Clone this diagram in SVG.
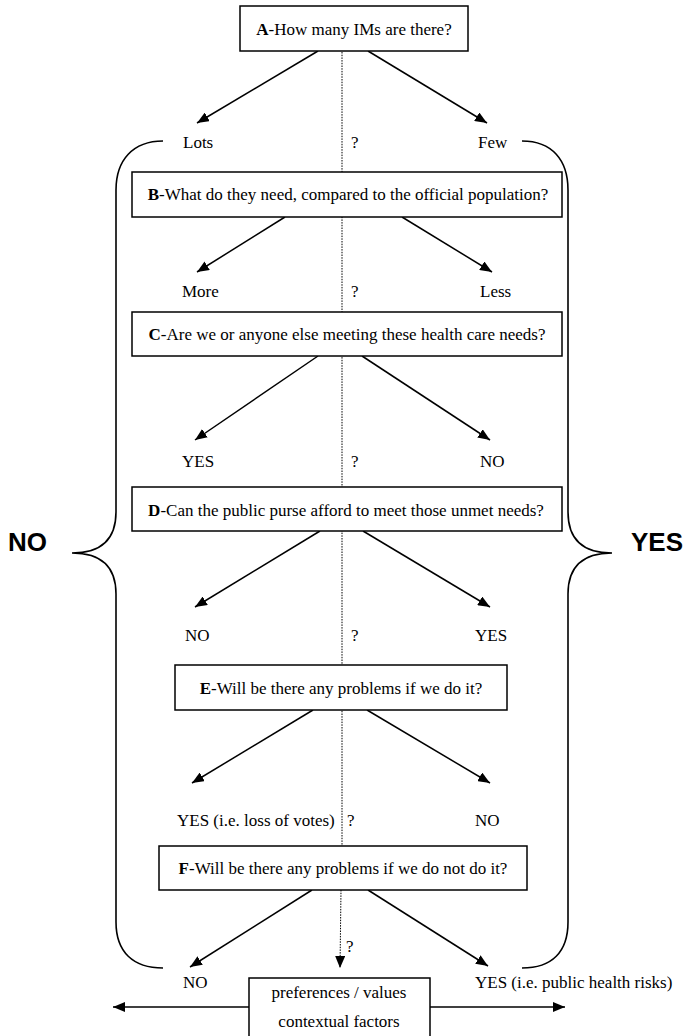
<svg xmlns="http://www.w3.org/2000/svg" width="686" height="1036" viewBox="0 0 686 1036">
<defs>
<style>
.box{fill:#fff;stroke:#000;stroke-width:1.5}
.t{font-family:"Liberation Serif","Times New Roman",serif;font-size:17px;fill:#000}
.c{text-anchor:middle}
.big{font-family:"Liberation Sans",Arial,sans-serif;font-size:26px;font-weight:bold;fill:#000}
.ln{stroke:#000;stroke-width:1.5;fill:none}
.dot{stroke:#000;stroke-width:1;stroke-dasharray:1.5 1.2;fill:none}
.br{stroke:#000;stroke-width:1.6;fill:none}
</style>
<marker id="ah" viewBox="0 0 12 10" refX="12" refY="5" markerWidth="12" markerHeight="10" markerUnits="userSpaceOnUse" orient="auto">
<path d="M0,0 L12,5 L0,10 z" fill="#000"/>
</marker>
</defs>
<rect width="686" height="1036" fill="#fff"/>
<g id="connectors">
<line class="dot" x1="342" y1="52" x2="342" y2="890"/>
<line class="dot" x1="341" y1="890" x2="340" y2="968" marker-end="url(#ah)"/>
<line class="ln" x1="318" y1="51" x2="197" y2="123" marker-end="url(#ah)"/>
<line class="ln" x1="368" y1="51" x2="487" y2="123" marker-end="url(#ah)"/>
<line class="ln" x1="285" y1="217" x2="197" y2="272" marker-end="url(#ah)"/>
<line class="ln" x1="402" y1="217" x2="492" y2="272" marker-end="url(#ah)"/>
<line class="ln" x1="318" y1="356" x2="195" y2="440" marker-end="url(#ah)"/>
<line class="ln" x1="362" y1="356" x2="490" y2="440" marker-end="url(#ah)"/>
<line class="ln" x1="320" y1="531" x2="195" y2="607" marker-end="url(#ah)"/>
<line class="ln" x1="363" y1="531" x2="490" y2="607" marker-end="url(#ah)"/>
<line class="ln" x1="313" y1="710" x2="192" y2="783" marker-end="url(#ah)"/>
<line class="ln" x1="367" y1="710" x2="490" y2="783" marker-end="url(#ah)"/>
<line class="ln" x1="312" y1="890" x2="190" y2="967" marker-end="url(#ah)"/>
<line class="ln" x1="368" y1="890" x2="488" y2="966" marker-end="url(#ah)"/>
<line class="ln" x1="249" y1="1007" x2="113" y2="1007" marker-end="url(#ah)"/>
<line class="ln" x1="430" y1="1007" x2="565" y2="1007" marker-end="url(#ah)"/>
</g>
<g id="braces">
<path class="br" d="M163,141 C133,141 116,160 116,190 L116,512 C116,540 100,553 72,553 C100,553 116,566 116,594 L116,922 C116,952 133,968 163,968"/>
<path class="br" d="M522,141 C552,141 568,160 568,190 L568,512 C568,540 584,553 612,553 C584,553 568,566 568,594 L568,922 C568,952 552,968 522,968"/>
<text class="big" x="8" y="551">NO</text>
<text class="big" x="631" y="551">YES</text>
</g>
<g id="nodeA">
<rect class="box" x="240" y="6" width="228" height="45"/>
<text class="t c" x="354" y="35"><tspan font-weight="bold">A</tspan>-How many IMs are there?</text>
</g>
<g id="labelsA">
<text class="t" x="183" y="148">Lots</text>
<text class="t" x="351" y="148">?</text>
<text class="t" x="478" y="148">Few</text>
</g>
<g id="nodeB">
<rect class="box" x="132" y="172" width="430" height="45"/>
<text class="t c" x="348" y="200"><tspan font-weight="bold">B</tspan>-What do they need, compared to the official population?</text>
</g>
<g id="labelsB">
<text class="t" x="182" y="297">More</text>
<text class="t" x="351" y="297">?</text>
<text class="t" x="480" y="297">Less</text>
</g>
<g id="nodeC">
<rect class="box" x="132" y="312" width="430" height="44"/>
<text class="t c" x="347" y="340"><tspan font-weight="bold">C</tspan>-Are we or anyone else meeting these health care needs?</text>
</g>
<g id="labelsC">
<text class="t" x="182" y="467">YES</text>
<text class="t" x="351" y="467">?</text>
<text class="t" x="480" y="467">NO</text>
</g>
<g id="nodeD">
<rect class="box" x="132" y="487" width="430" height="44"/>
<text class="t c" x="346" y="516"><tspan font-weight="bold">D</tspan>-Can the public purse afford to meet those unmet needs?</text>
</g>
<g id="labelsD">
<text class="t" x="185" y="641">NO</text>
<text class="t" x="351" y="641">?</text>
<text class="t" x="475" y="641">YES</text>
</g>
<g id="nodeE">
<rect class="box" x="175" y="665" width="332" height="45"/>
<text class="t c" x="341" y="694"><tspan font-weight="bold">E</tspan>-Will be there any problems if we do it?</text>
</g>
<g id="labelsE">
<text class="t" x="177" y="826">YES (i.e. loss of votes)</text>
<text class="t" x="347" y="826">?</text>
<text class="t" x="475" y="826">NO</text>
</g>
<g id="nodeF">
<rect class="box" x="159" y="846" width="368" height="44"/>
<text class="t c" x="343" y="874"><tspan font-weight="bold">F</tspan>-Will be there any problems if we do not do it?</text>
</g>
<g id="labelsF">
<text class="t" x="346" y="952">?</text>
<text class="t" x="183" y="988">NO</text>
<text class="t" x="475" y="988">YES (i.e. public health risks)</text>
</g>
<g id="nodeG">
<rect class="box" x="249" y="978" width="181" height="70"/>
<text class="t c" x="339" y="998">preferences / values</text>
<text class="t c" x="339" y="1027">contextual factors</text>
</g>
</svg>
